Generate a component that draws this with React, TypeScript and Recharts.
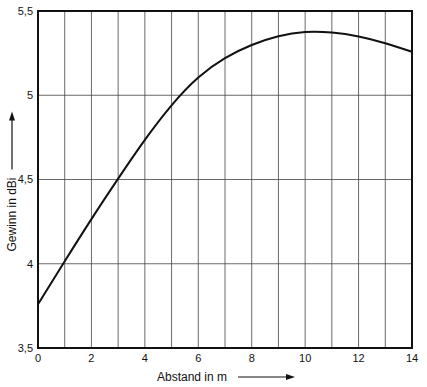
import {
  CartesianGrid,
  Label,
  Line,
  LineChart,
  ReferenceArea,
  XAxis,
  YAxis,
} from "recharts";

// Abstand in m
const distances = [0, 1, 2, 3, 4, 5, 6, 7, 8, 9, 10, 11, 12, 13, 14];

// Gewinn in dBi
const gain = [
  3.76, 4.015, 4.265, 4.505, 4.735, 4.94, 5.105, 5.22, 5.298, 5.35, 5.375,
  5.372, 5.349, 5.309, 5.258,
];

const xTicks = [0, 1, 2, 3, 4, 5, 6, 7, 8, 9, 10, 11, 12, 13, 14];
const xTickLabels = ["0", "2", "4", "6", "8", "10", "12", "14"];
const yTicks = [3.5, 4, 4.5, 5, 5.5];

const xLabel = "Abstand in m";
const yLabel = "Gewinn in dBi";

const data = distances.map((d, i) => ({ d, g: gain[i] }));

const font = "'Liberation Sans', Arial, sans-serif";

function XTitle({ viewBox }: any) {
  const cx = viewBox.x + viewBox.width / 2;
  const y = viewBox.y + viewBox.height - 6;
  return (
    <g>
      <text x={cx - 68} y={y} fontSize={12} fontFamily={font} fill="#111">
        {xLabel}
      </text>
      <line x1={cx + 13} y1={y - 4} x2={cx + 64} y2={y - 4} stroke="#111" strokeWidth={1.2} />
      <polygon
        points={`${cx + 70},${y - 4} ${cx + 61},${y - 7} ${cx + 61},${y - 1}`}
        fill="#111"
      />
    </g>
  );
}

function YTitle({ viewBox }: any) {
  const x = 16;
  const cy = viewBox.y + viewBox.height / 2;
  return (
    <g>
      <text
        x={x}
        y={cy + 72}
        fontSize={12}
        fontFamily={font}
        fill="#111"
        transform={`rotate(-90 ${x} ${cy + 72})`}
      >
        {yLabel}
      </text>
      <line x1={x - 4} y1={cy - 10} x2={x - 4} y2={cy - 62} stroke="#111" strokeWidth={1.2} />
      <polygon
        points={`${x - 4},${cy - 68} ${x - 7},${cy - 59} ${x - 1},${cy - 59}`}
        fill="#111"
      />
    </g>
  );
}

export default function App() {
  return (
    <div style={{ position: "absolute", left: 0, top: 0, background: "#fff" }}>
      <LineChart
        width={427}
        height={387}
        data={data}
        margin={{ top: 11, right: 15, bottom: 0, left: 0 }}
      >
        <CartesianGrid stroke="#444" strokeWidth={0.8} />
        <XAxis
          dataKey="d"
          type="number"
          domain={[0, 14]}
          ticks={xTicks}
          interval={0}
          tickFormatter={(v) => (xTickLabels.includes(String(v)) ? String(v) : "")}
          tickLine={false}
          axisLine={{ stroke: "#111", strokeWidth: 2 }}
          tick={{ fill: "#111", fontSize: 11, fontFamily: font }}
          tickSize={4}
          tickMargin={2}
          height={39}
        >
          <Label content={<XTitle />} position="insideBottom" />
        </XAxis>
        <YAxis
          type="number"
          domain={[3.5, 5.5]}
          ticks={yTicks}
          interval={0}
          tickFormatter={(v) => String(v).replace(".", ",")}
          tickLine={false}
          axisLine={{ stroke: "#111", strokeWidth: 2 }}
          tick={{ fill: "#111", fontSize: 11, fontFamily: font }}
          tickSize={3}
          tickMargin={2}
          width={38}
        >
          <Label content={<YTitle />} position="insideLeft" />
        </YAxis>
        <ReferenceArea
          x1={0}
          x2={14}
          y1={3.5}
          y2={5.5}
          stroke="#111"
          strokeWidth={2}
          fill="none"
          fillOpacity={0}
        />
        <Line
          dataKey="g"
          type="natural"
          stroke="#111"
          strokeWidth={2}
          dot={false}
          isAnimationActive={false}
        />
      </LineChart>
    </div>
  );
}
